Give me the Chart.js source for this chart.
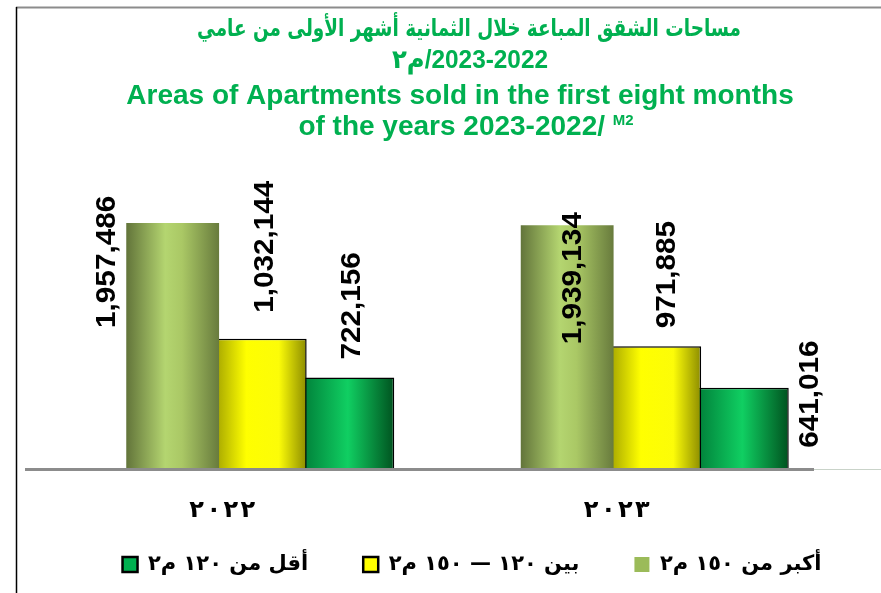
<!DOCTYPE html>
<html>
<head>
<meta charset="utf-8">
<script src="https://cdn.jsdelivr.net/npm/chart.js@4.4.1/dist/chart.umd.min.js"></script>
<style>
  html, body { margin: 0; padding: 0; background: #fff; }
  canvas { display: block; }
</style>
</head>
<body>
<canvas id="areasChart" width="881" height="593"></canvas>
<script>
// data
const years = ['٢٠٢٢', '٢٠٢٣'];
const seriesNames = ['أكبر من ١٥٠ م٢', 'بين ١٢٠ — ١٥٠ م٢', 'أقل من ١٢٠ م٢'];
const over150 = [1957486, 1939134];
const from120to150 = [1032144, 971885];
const under120 = [722156, 641016];

const titleAr = ['مساحات الشقق المباعة خلال الثمانية أشهر الأولى من عامي', '٢م/2023-2022'];
const titleEn = ['Areas of Apartments sold in the first eight months', 'of the years 2023-2022/ '];
const titleSup = 'M2';

// look
const titleGreen = '#00b050';
const legendFill = ['#9bbb59', '#ffff00', '#00b050'];
const barShades = [
  [[0, '#62743a'], [0.42, '#b4d570'], [0.6, '#aac865'], [1, '#687b3d']],
  [[0, '#a0a000'], [0.35, '#ffff00'], [0.7, '#fcfc08'], [1, '#8c8c00']],
  [[0, '#007d38'], [0.5, '#10cf62'], [1, '#00521f']]
];
// where each value label sits, relative to its bar top (dx, dy)
const labelNudge = [
  [[-65, 105], [6, 119]],
  [[5, -26], [13, -18]],
  [[5, -18], [68, 60]]
];

const frame = {
  id: 'frame',
  beforeDraw(chart) {
    const ctx = chart.ctx;
    ctx.save();
    ctx.fillStyle = '#fff';
    ctx.fillRect(0, 0, chart.width, chart.height);
    ctx.strokeStyle = '#8c8c8c';
    ctx.lineWidth = 2;
    ctx.beginPath();
    ctx.moveTo(16, 7.5);
    ctx.lineTo(chart.width, 7.5);
    ctx.stroke();
    ctx.strokeStyle = '#000';
    ctx.lineWidth = 1.5;
    ctx.beginPath();
    ctx.moveTo(16.5, 7);
    ctx.lineTo(16.5, chart.height);
    ctx.stroke();
    ctx.restore();
  }
};

const titleBlock = {
  id: 'titleBlock',
  afterDraw(chart) {
    const ctx = chart.ctx;
    ctx.save();
    ctx.fillStyle = titleGreen;
    ctx.textAlign = 'center';
    ctx.textBaseline = 'middle';
    ctx.font = 'bold 24px "DejaVu Sans", sans-serif';
    ctx.fillText(titleAr[0], 469, 30, 544);
    ctx.font = 'bold 26px "Liberation Sans", "DejaVu Sans", sans-serif';
    ctx.fillText('\u202D' + titleAr[1] + '\u202C', 470, 61, 156);
    ctx.font = 'bold 28px "Liberation Sans", Arial, sans-serif';
    ctx.fillText(titleEn[0], 460, 96);
    const w1 = ctx.measureText(titleEn[1]).width;
    ctx.font = 'bold 15px "Liberation Sans", Arial, sans-serif';
    const w2 = ctx.measureText(titleSup).width;
    const x0 = 466 - (w1 + w2) / 2;
    ctx.textAlign = 'left';
    ctx.fillText(titleSup, x0 + w1, 121);
    ctx.font = 'bold 28px "Liberation Sans", Arial, sans-serif';
    ctx.fillText(titleEn[1], x0, 127);
    ctx.restore();
  }
};

const cylinderFill = {
  id: 'cylinderFill',
  beforeDatasetsDraw(chart) {
    const ctx = chart.ctx;
    chart.data.datasets.forEach((ds, i) => {
      chart.getDatasetMeta(i).data.forEach(bar => {
        const g = ctx.createLinearGradient(bar.x - bar.width / 2, 0, bar.x + bar.width / 2, 0);
        barShades[i].forEach(s => g.addColorStop(s[0], s[1]));
        bar.options = Object.assign({}, bar.options, { backgroundColor: g });
      });
    });
  }
};

const baseAndLabels = {
  id: 'baseAndLabels',
  afterDatasetsDraw(chart) {
    const ctx = chart.ctx;
    const area = chart.chartArea;
    const y0 = chart.scales.y.getPixelForValue(0);
    ctx.save();
    ctx.strokeStyle = '#c9d3c9';
    ctx.lineWidth = 1;
    ctx.beginPath();
    ctx.moveTo(area.right - 38, y0 + 1.5);
    ctx.lineTo(chart.width, y0 + 1.5);
    ctx.stroke();
    ctx.strokeStyle = '#8c8c8c';
    ctx.lineWidth = 3;
    ctx.beginPath();
    ctx.moveTo(area.left - 38, y0 + 1.5);
    ctx.lineTo(area.right - 38, y0 + 1.5);
    ctx.stroke();

    ctx.fillStyle = '#000';
    ctx.font = 'bold 27px "Liberation Sans", Arial, sans-serif';
    ctx.textAlign = 'left';
    ctx.textBaseline = 'middle';
    chart.data.datasets.forEach((ds, i) => {
      chart.getDatasetMeta(i).data.forEach((bar, j) => {
        const n = labelNudge[i][j];
        ctx.save();
        ctx.translate(bar.x + n[0], bar.y + n[1]);
        ctx.rotate(-Math.PI / 2);
        ctx.scale(1.1, 1);
        ctx.fillText(ds.data[j].toLocaleString('en-US'), 0, 0);
        ctx.restore();
      });
    });
    ctx.restore();
  }
};

const chart = new Chart(document.getElementById('areasChart'), {
  type: 'bar',
  data: {
    labels: years,
    datasets: [
      { label: seriesNames[0], data: over150, backgroundColor: legendFill[0], borderWidth: 0 },
      { label: seriesNames[1], data: from120to150, backgroundColor: legendFill[1], borderColor: '#000', borderWidth: 1.5 },
      { label: seriesNames[2], data: under120, backgroundColor: legendFill[2], borderColor: '#000', borderWidth: 1.5 }
    ]
  },
  options: {
    responsive: false,
    animation: false,
    categoryPercentage: 0.666,
    barPercentage: 1.06,
    layout: { padding: { top: 155, left: 63, right: 0, bottom: 8 } },
    scales: {
      x: {
        grid: { display: false, drawTicks: false },
        border: { display: false },
        ticks: {
          color: '#000',
          font: { family: '"DejaVu Sans", sans-serif', size: 24, weight: 'bold' },
          mirror: true,
          padding: -57,
          labelOffset: -38,
          callback: (v, i) => '\u202D' + years[i].split('').join('\u200A') + '\u202C'
        },
        afterFit: s => { s.height = 31; }
      },
      y: {
        position: 'right',
        min: 0,
        max: 2500000,
        grid: { display: false },
        border: { display: false },
        ticks: { display: false },
        afterFit: s => { s.width = 29; }
      }
    },
    plugins: {
      title: { display: false },
      tooltip: { enabled: false },
      legend: {
        position: 'bottom',
        reverse: true,
        labels: {
          color: '#000',
          font: { family: '"DejaVu Sans", sans-serif', size: 21, weight: 'bold' },
          boxWidth: 15,
          boxHeight: 15,
          padding: 55,
          generateLabels(c) {
            return Chart.defaults.plugins.legend.labels.generateLabels(c)
              .map(item => Object.assign(item, { lineWidth: item.lineWidth ? 2.5 : 0 }));
          }
        }
      }
    }
  },
  plugins: [frame, cylinderFill, baseAndLabels, titleBlock]
});
</script>
</body>
</html>
